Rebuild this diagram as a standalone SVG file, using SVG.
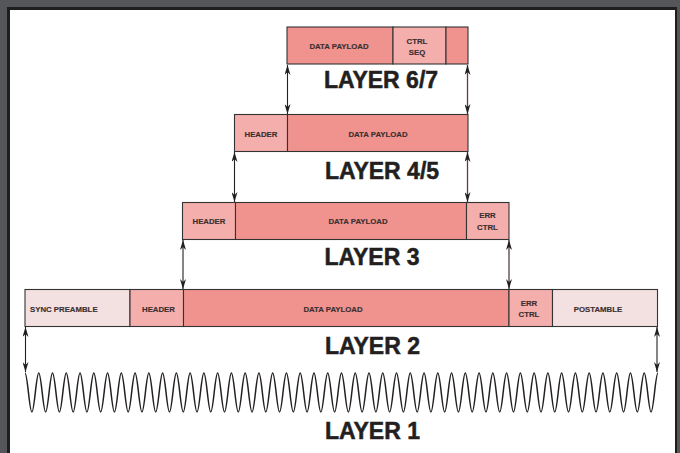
<svg xmlns="http://www.w3.org/2000/svg" width="680" height="453" viewBox="0 0 680 453">
<defs>
<style>
.pay{fill:#f0938f;stroke:#333;stroke-width:1.1}
.hdr{fill:#f4aeac;stroke:#333;stroke-width:1.1}
.pre{fill:#f3e1e1;stroke:#333;stroke-width:1.1}
.sm{font-family:"Liberation Sans",Arial,sans-serif;font-weight:bold;font-size:7.8px;fill:#3a2f30;stroke:#3a2f30;stroke-width:0.15;text-anchor:middle;dominant-baseline:central}
.big{font-family:"Liberation Sans",Arial,sans-serif;font-weight:bold;font-size:23px;fill:#231f20;stroke:#231f20;stroke-width:0.5;text-anchor:middle}
.arr{stroke:#231f20;stroke-width:1.1;fill:none;marker-start:url(#ah);marker-end:url(#ah)}
.arr2{stroke:#5a3e3e;stroke-width:1.3;fill:none;marker-start:url(#ah);marker-end:url(#ah)}
</style>
<marker id="ah" viewBox="0 0 10 10" refX="10" refY="5" markerWidth="10" markerHeight="6" markerUnits="userSpaceOnUse" orient="auto-start-reverse" preserveAspectRatio="none">
<path d="M0,0 L10,5 L0,10 L3,5 z" fill="#231f20"/>
</marker>
</defs>
<rect width="680" height="453" fill="#55565a"/>
<rect x="7" y="7" width="670" height="446" fill="#1e1e1e"/>
<rect x="10" y="10" width="665" height="443" fill="#ffffff"/>

<g id="layer67">
<rect class="pay" x="287" y="27" width="106" height="37"/>
<rect class="hdr" x="393" y="27" width="53" height="37"/>
<rect class="pay" x="446" y="27" width="22" height="37"/>
<text class="sm" x="339" y="46.5">DATA PAYLOAD</text>
<text class="sm" x="417" y="41">CTRL</text>
<text class="sm" x="417" y="52">SEQ</text>
<text class="big" x="381" y="88">LAYER 6/7</text>
</g>

<g id="layer45">
<rect class="hdr" x="234.5" y="114.5" width="53" height="37"/>
<rect class="pay" x="287.5" y="114.5" width="180.5" height="37"/>
<text class="sm" x="261" y="134">HEADER</text>
<text class="sm" x="378" y="134">DATA PAYLOAD</text>
<text class="big" x="382" y="179">LAYER 4/5</text>
</g>

<g id="layer3">
<rect class="hdr" x="182.5" y="202.5" width="53" height="37"/>
<rect class="pay" x="235.5" y="202.5" width="231" height="37"/>
<rect class="hdr" x="466.5" y="202.5" width="42.5" height="37"/>
<text class="sm" x="209" y="221.5">HEADER</text>
<text class="sm" x="358" y="221.5">DATA PAYLOAD</text>
<text class="sm" x="487.5" y="215.5">ERR</text>
<text class="sm" x="487.5" y="227">CTRL</text>
<text class="big" x="372" y="265">LAYER 3</text>
</g>

<g id="layer2">
<rect class="pre" x="25" y="289.5" width="105" height="37"/>
<rect class="hdr" x="130" y="289.5" width="53.5" height="37"/>
<rect class="pay" x="183.5" y="289.5" width="325.5" height="37"/>
<rect class="hdr" x="509" y="289.5" width="43.5" height="37"/>
<rect class="pre" x="552.5" y="289.5" width="105" height="37"/>
<text class="sm" x="30" y="309" style="text-anchor:start">SYNC PREAMBLE</text>
<text class="sm" x="158.5" y="309">HEADER</text>
<text class="sm" x="333" y="309">DATA PAYLOAD</text>
<text class="sm" x="529" y="303">ERR</text>
<text class="sm" x="529" y="314.5">CTRL</text>
<text class="sm" x="598" y="309">POSTAMBLE</text>
<text class="big" x="372.5" y="354">LAYER 2</text>
</g>

<g id="layer1">
<path d="M25,373 c2.506,0 4.374,39 6.88,39
s4.374,-39 6.88,-39 s4.374,39 6.88,39 s4.374,-39 6.88,-39 s4.374,39 6.88,39 s4.374,-39 6.88,-39 s4.374,39 6.88,39 s4.374,-39 6.88,-39 s4.374,39 6.88,39 s4.374,-39 6.88,-39 s4.374,39 6.88,39
s4.374,-39 6.88,-39 s4.374,39 6.88,39 s4.374,-39 6.88,-39 s4.374,39 6.88,39 s4.374,-39 6.88,-39 s4.374,39 6.88,39 s4.374,-39 6.88,-39 s4.374,39 6.88,39 s4.374,-39 6.88,-39 s4.374,39 6.88,39
s4.374,-39 6.88,-39 s4.374,39 6.88,39 s4.374,-39 6.88,-39 s4.374,39 6.88,39 s4.374,-39 6.88,-39 s4.374,39 6.88,39 s4.374,-39 6.88,-39 s4.374,39 6.88,39 s4.374,-39 6.88,-39 s4.374,39 6.88,39
s4.374,-39 6.88,-39 s4.374,39 6.88,39 s4.374,-39 6.88,-39 s4.374,39 6.88,39 s4.374,-39 6.88,-39 s4.374,39 6.88,39 s4.374,-39 6.88,-39 s4.374,39 6.88,39 s4.374,-39 6.88,-39 s4.374,39 6.88,39
s4.374,-39 6.88,-39 s4.374,39 6.88,39 s4.374,-39 6.88,-39 s4.374,39 6.88,39 s4.374,-39 6.88,-39 s4.374,39 6.88,39 s4.374,-39 6.88,-39 s4.374,39 6.88,39 s4.374,-39 6.88,-39 s4.374,39 6.88,39
s4.374,-39 6.88,-39 s4.374,39 6.88,39 s4.374,-39 6.88,-39 s4.374,39 6.88,39 s4.374,-39 6.88,-39 s4.374,39 6.88,39 s4.374,-39 6.88,-39 s4.374,39 6.88,39 s4.374,-39 6.88,-39 s4.374,39 6.88,39
s4.374,-39 6.88,-39 s4.374,39 6.88,39 s4.374,-39 6.88,-39 s4.374,39 6.88,39 s4.374,-39 6.88,-39 s4.374,39 6.88,39 s4.374,-39 6.88,-39 s4.374,39 6.88,39 s4.374,-39 6.88,-39 s4.374,39 6.88,39
s4.374,-39 6.88,-39 s4.374,39 6.88,39 s4.374,-39 6.88,-39 s4.374,39 6.88,39 s4.374,-39 6.88,-39 s4.374,39 6.88,39 s4.374,-39 6.88,-39 s4.374,39 6.88,39 s4.374,-39 6.88,-39 s4.374,39 6.88,39
s4.374,-39 6.88,-39 s4.374,39 6.88,39 s4.374,-39 6.88,-39 s4.374,39 6.88,39 s4.374,-39 6.88,-39 s4.374,39 6.88,39 s4.374,-39 6.88,-39 s4.374,39 6.88,39 s4.374,-39 6.88,-39 s4.374,39 6.88,39
s4.374,-39 6.88,-39" fill="none" stroke="#231f20" stroke-width="1.5"/>
<text class="big" x="372.5" y="439">LAYER 1</text>
</g>

<g id="connectors">
<line class="arr" x1="287.5" y1="65" x2="287.5" y2="114"/>
<line class="arr2" x1="467.5" y1="65" x2="467.5" y2="114"/>
<line class="arr" x1="234.5" y1="152" x2="234.5" y2="202"/>
<line class="arr2" x1="467.5" y1="152" x2="467.5" y2="202"/>
<line class="arr" x1="183" y1="240" x2="183" y2="289"/>
<line class="arr2" x1="509" y1="240" x2="509" y2="289"/>
<line class="arr" x1="25.5" y1="327" x2="25.5" y2="372"/>
<line class="arr" x1="657" y1="327" x2="657" y2="372"/>
</g>
</svg>
